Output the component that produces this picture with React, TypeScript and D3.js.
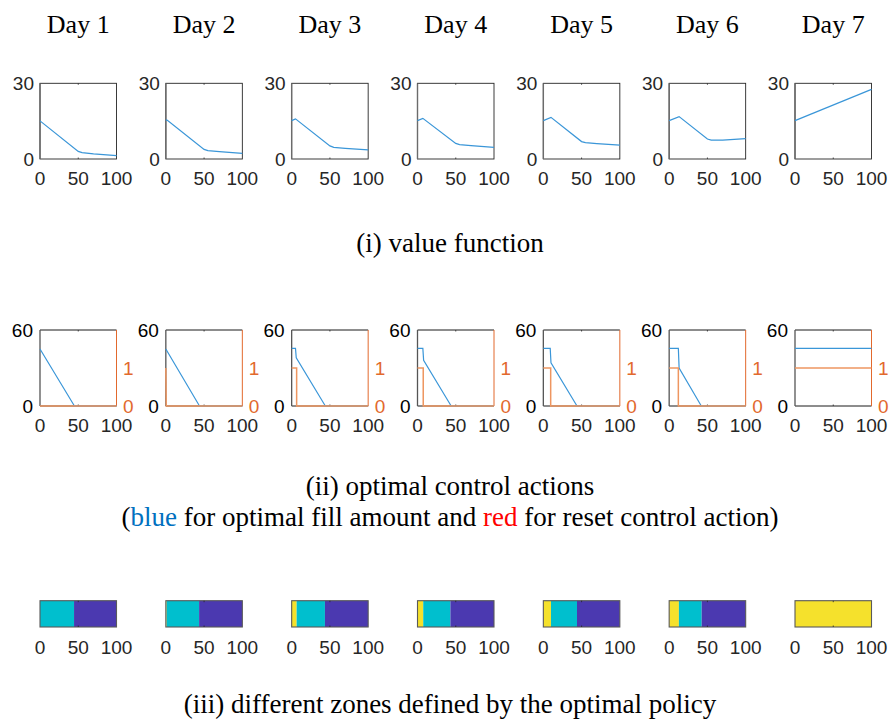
import React from "react";
import * as d3 from "d3";

// Seven planning days, one column each
const days = ["Day 1", "Day 2", "Day 3", "Day 4", "Day 5", "Day 6", "Day 7"];
const xTicks = [0, 50, 100];

// (i) value function: [state, value] breakpoints per day
const valueDay1 = [[0, 15.1], [50, 3.0], [55, 2.5], [70, 2.0], [100, 1.3]];
const valueDay2 = [[0, 15.5], [2, 15.3], [50, 3.8], [55, 3.3], [70, 2.9], [100, 2.2]];
const valueDay3 = [[0, 15.2], [5, 15.9], [50, 5.2], [55, 4.6], [70, 4.2], [100, 3.6]];
const valueDay4 = [[0, 15.2], [7, 16.1], [50, 6.2], [55, 5.7], [70, 5.3], [100, 4.6]];
const valueDay5 = [[0, 15.2], [10, 16.5], [50, 6.9], [55, 6.5], [70, 6.1], [100, 5.5]];
const valueDay6 = [[0, 15.2], [13, 16.8], [50, 7.9], [55, 7.5], [70, 7.5], [100, 8.1]];
const valueDay7 = [[0, 15.2], [100, 27.6]];
const valueCurves = [valueDay1, valueDay2, valueDay3, valueDay4, valueDay5, valueDay6, valueDay7];
const valueTicks = [0, 30];

// (ii) optimal fill amount (left axis) per day
const fillDay1 = [[0, 45], [45, 0], [100, 0]];
const fillDay2 = [[0, 45], [44, 0], [100, 0]];
const fillDay3 = [[0, 45.5], [5, 45.5], [6, 38], [44, 0], [100, 0]];
const fillDay4 = [[0, 45.5], [7, 45.5], [8, 36], [44, 0], [100, 0]];
const fillDay5 = [[0, 45.5], [9, 45.5], [10, 34], [44, 0], [100, 0]];
const fillDay6 = [[0, 45.5], [12, 45.5], [13, 30], [42, 0], [100, 0]];
const fillDay7 = [[0, 45.5], [100, 45.5]];
const fillCurves = [fillDay1, fillDay2, fillDay3, fillDay4, fillDay5, fillDay6, fillDay7];
const fillTicks = [0, 60];

// (ii) reset control action (right axis, 0/1) per day
const resetDay1 = [[0, 0], [100, 0]];
const resetDay2 = [[0, 1], [0.5, 0], [100, 0]];
const resetDay3 = [[0, 1], [6.5, 1], [6.5, 0], [100, 0]];
const resetDay4 = [[0, 1], [7.5, 1], [7.5, 0], [100, 0]];
const resetDay5 = [[0, 1], [9.6, 1], [9.6, 0], [100, 0]];
const resetDay6 = [[0, 1], [12, 1], [12, 0], [100, 0]];
const resetDay7 = [[0, 1], [100, 1]];
const resetCurves = [resetDay1, resetDay2, resetDay3, resetDay4, resetDay5, resetDay6, resetDay7];
const resetTicks = [0, 1];

// (iii) zone boundaries: end of reset zone, end of fill zone
const resetZoneEnd = [0, 1, 6.5, 7.5, 10, 12.7, 100];
const fillZoneEnd = [44.5, 43.5, 43.5, 43, 44, 42.5, 100];
const zoneColors = ["#F5E12C", "#00BFCE", "#4B39B0"];

const W = 891;
const H = 719;
const panelW = 76.5;

const tickFont = "'Liberation Sans', Arial, Helvetica, sans-serif";
const serifFont = "'Liberation Serif', 'Times New Roman', Times, serif";
const axisGray = "#262626";
const blueLine = "#3A96D8";
const orangeAxis = "#E2692D";
const orangeLine = "#EE9660";

const left = d3.scalePoint<string>().domain(days).range([40, 795]);
const xPanel = (i: number) =>
  d3.scaleLinear().domain([0, 100]).range([left(days[i])!, left(days[i])! + panelW]);

const row1 = { top: 83.3, bottom: 159 };
const row2 = { top: 330, bottom: 406 };
const row3 = { top: 600.7, bottom: 627 };

const yValue = d3.scaleLinear().domain([0, 30]).range([row1.bottom, row1.top]);
const yFill = d3.scaleLinear().domain([0, 60]).range([row2.bottom, row2.top]);
const yReset = d3.scaleLinear().domain([0, 2]).range([row2.bottom, row2.top]);

function XTickLabels({ x, baseline }: { x: d3.ScaleLinear<number, number>; baseline: number }) {
  return (
    <g>
      {xTicks.map((t) => (
        <text key={t} x={x(t)} y={baseline} textAnchor="middle" fontFamily={tickFont} fontSize={19} fill={axisGray}>
          {t}
        </text>
      ))}
    </g>
  );
}

function InnerTicks({ x, top, bottom }: { x: d3.ScaleLinear<number, number>; top: number; bottom: number }) {
  return (
    <g stroke={axisGray} strokeWidth={0.8}>
      <line x1={x(50)} x2={x(50)} y1={top} y2={top + 1.5} />
      <line x1={x(50)} x2={x(50)} y1={bottom} y2={bottom - 1.5} />
    </g>
  );
}

export default function App() {
  const lineOf = (x: d3.ScaleLinear<number, number>, y: d3.ScaleLinear<number, number>) =>
    d3.line<number[]>().x((d) => x(d[0])).y((d) => y(d[1]));

  return (
    <svg
      width={W}
      height={H}
      viewBox={`0 0 ${W} ${H}`}
      style={{ position: "absolute", left: 0, top: 0, background: "#fff" }}
    >
      <rect width={W} height={H} fill="#fff" />

      {/* Day headers */}
      {days.map((d, i) => {
        const x = xPanel(i);
        return (
          <text key={d} x={x(50)} y={33} textAnchor="middle" fontFamily={serifFont} fontSize={26} fill="#000">
            {d}
          </text>
        );
      })}

      {/* Row (i): value function */}
      {days.map((d, i) => {
        const x = xPanel(i);
        return (
          <g key={`v-${d}`}>
            <rect x={x(0)} y={row1.top} width={panelW} height={row1.bottom - row1.top} fill="#fff" stroke={axisGray} strokeWidth={0.9} />
            <line x1={x(0)} x2={x(0)} y1={row1.top} y2={row1.bottom} stroke="#6b6b6b" strokeWidth={1.4} />
            <InnerTicks x={x} top={row1.top} bottom={row1.bottom} />
            <path d={lineOf(x, yValue)(valueCurves[i])!} fill="none" stroke={blueLine} strokeWidth={1.2} />
            {valueTicks.map((t) => (
              <text key={t} x={x(0) - 6} y={yValue(t) + 6.8} textAnchor="end" fontFamily={tickFont} fontSize={19} fill={axisGray}>
                {t}
              </text>
            ))}
            <XTickLabels x={x} baseline={185} />
          </g>
        );
      })}
      <text x={450} y={252} textAnchor="middle" fontFamily={serifFont} fontSize={27} fill="#000">
        (i) value function
      </text>

      {/* Row (ii): optimal control actions */}
      {days.map((d, i) => {
        const x = xPanel(i);
        return (
          <g key={`c-${d}`}>
            <line x1={x(0)} x2={x(100)} y1={row2.top} y2={row2.top} stroke="#000" strokeWidth={0.9} />
            <line x1={x(0)} x2={x(100)} y1={row2.bottom} y2={row2.bottom} stroke="#000" strokeWidth={0.9} />
            <line x1={x(0)} x2={x(0)} y1={row2.top} y2={row2.bottom} stroke="#555" strokeWidth={1.3} />
            <line x1={x(100)} x2={x(100)} y1={row2.top} y2={row2.bottom} stroke={orangeAxis} strokeWidth={1} />
            <InnerTicks x={x} top={row2.top} bottom={row2.bottom} />
            <path d={lineOf(x, yFill)(fillCurves[i])!} fill="none" stroke={blueLine} strokeWidth={1.2} />
            <path d={lineOf(x, yReset)(resetCurves[i])!} fill="none" stroke={orangeLine} strokeWidth={1.5} />
            {fillTicks.map((t) => (
              <text key={t} x={x(0) - 7} y={yFill(t) + 6.8} textAnchor="end" fontFamily={tickFont} fontSize={19} fill="#000">
                {t}
              </text>
            ))}
            {resetTicks.map((t) => (
              <text key={t} x={x(100) + 6.5} y={yReset(t) + 6.8} textAnchor="start" fontFamily={tickFont} fontSize={19} fill={orangeAxis}>
                {t}
              </text>
            ))}
            <XTickLabels x={x} baseline={432} />
          </g>
        );
      })}
      <text x={450} y={495} textAnchor="middle" fontFamily={serifFont} fontSize={27} fill="#000">
        (ii) optimal control actions
      </text>
      <text x={450} y={526} textAnchor="middle" fontFamily={serifFont} fontSize={27} fill="#000">
        (<tspan fill="#0070C0">blue</tspan> for optimal fill amount and <tspan fill="#FF0000">red</tspan> for reset control action)
      </text>

      {/* Row (iii): zones */}
      {days.map((d, i) => {
        const x = xPanel(i);
        const bounds = [0, resetZoneEnd[i], fillZoneEnd[i], 100];
        return (
          <g key={`z-${d}`}>
            {zoneColors.map((c, k) =>
              bounds[k + 1] > bounds[k] ? (
                <rect key={c} x={x(bounds[k])} y={row3.top} width={x(bounds[k + 1]) - x(bounds[k])} height={row3.bottom - row3.top} fill={c} />
              ) : null
            )}
            <rect x={x(0)} y={row3.top} width={panelW} height={row3.bottom - row3.top} fill="none" stroke="#5a5a5a" strokeWidth={1.1} />
            <InnerTicks x={x} top={row3.top} bottom={row3.bottom} />
            <XTickLabels x={x} baseline={654} />
          </g>
        );
      })}
      <text x={450} y={713} textAnchor="middle" fontFamily={serifFont} fontSize={27} fill="#000">
        (iii) different zones defined by the optimal policy
      </text>
    </svg>
  );
}
